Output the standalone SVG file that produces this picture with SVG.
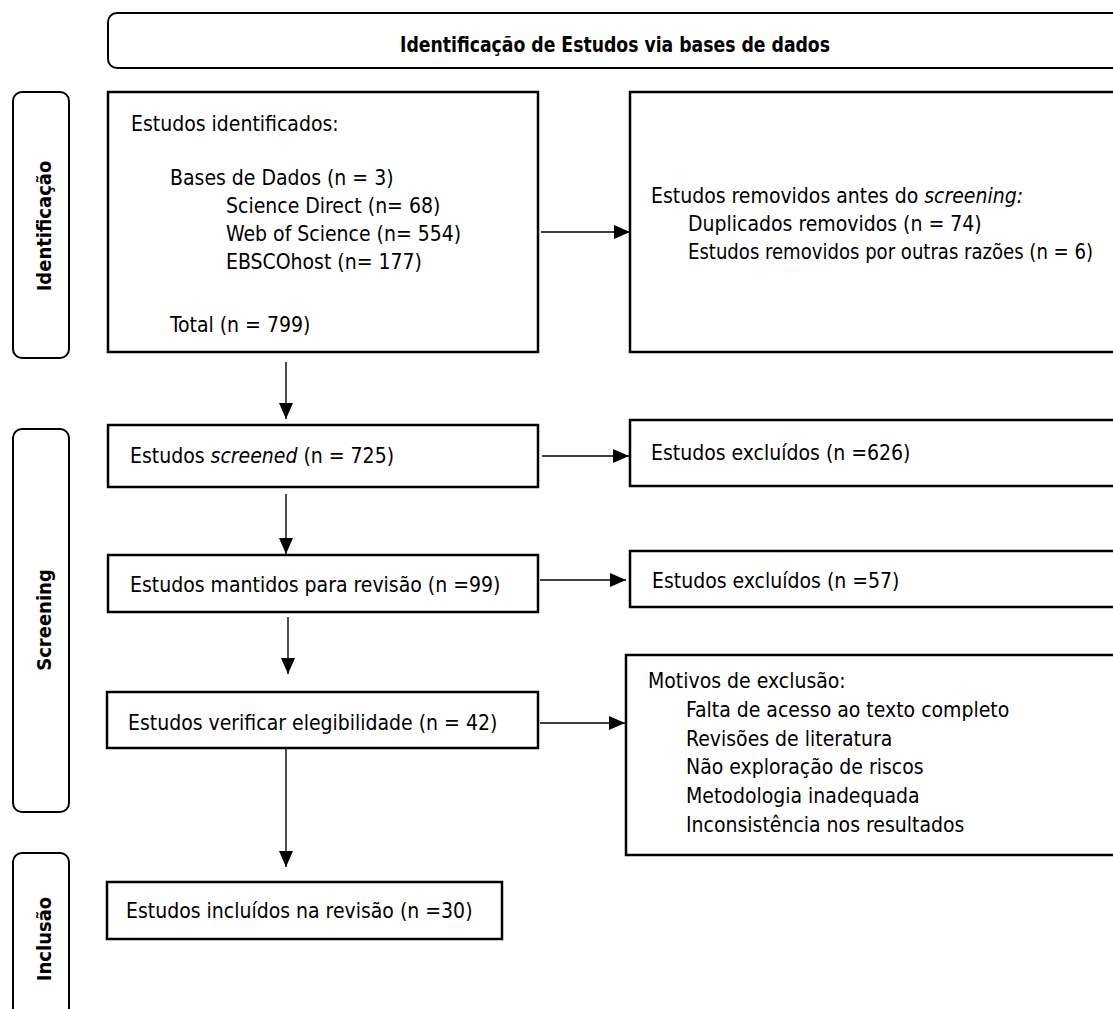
<svg xmlns="http://www.w3.org/2000/svg" width="1113" height="1009" viewBox="0 0 1113 1009">
<defs>
<marker id="ah" viewBox="0 0 16 14" refX="16" refY="7" markerWidth="16" markerHeight="14" markerUnits="userSpaceOnUse" orient="auto">
<path d="M0,0 L16,7 L0,14 z" fill="#000"/>
</marker>
<style>
.box{fill:#fff;stroke:#000;stroke-width:2.5}
.phase{fill:#fff;stroke:#000;stroke-width:2}
.t{font-family:"DejaVu Sans Condensed","Liberation Sans Narrow","Liberation Sans",sans-serif;font-size:21px;fill:#000}
.b{font-weight:bold;font-size:20px}
.h{font-size:22px}
.conn line{stroke:#000;stroke-width:1.4;marker-end:url(#ah)}
</style>
</defs>
<rect width="1113" height="1009" fill="#fff"/>
<g id="header">
<rect class="phase" x="108" y="13" width="1020" height="55" rx="9"/>
<text class="t b h" x="400" y="52" textLength="430" lengthAdjust="spacingAndGlyphs">Identificação de Estudos via bases de dados</text>
</g>
<g id="phase-identificacao">
<rect class="phase" x="13" y="92" width="56" height="266" rx="9"/>
<text class="t b" transform="translate(51,226) rotate(-90)" text-anchor="middle">Identificação</text>
</g>
<g id="phase-screening">
<rect class="phase" x="13" y="429" width="56" height="383" rx="9"/>
<text class="t b" transform="translate(51,620) rotate(-90)" text-anchor="middle">Screening</text>
</g>
<g id="phase-inclusao">
<rect class="phase" x="13" y="853" width="56" height="170" rx="9"/>
<text class="t b" transform="translate(51,939) rotate(-90)" text-anchor="middle">Inclusão</text>
</g>
<g id="identificados">
<rect class="box" x="108" y="92" width="430" height="260"/>
<text class="t" x="131" y="131">Estudos identificados:</text>
<text class="t" x="170" y="185">Bases de Dados (n = 3)</text>
<text class="t" x="226" y="213">Science Direct (n= 68)</text>
<text class="t" x="226" y="241">Web of Science (n= 554)</text>
<text class="t" x="226" y="269">EBSCOhost (n= 177)</text>
<text class="t" x="170" y="332">Total (n = 799)</text>
</g>
<g id="removidos">
<rect class="box" x="630" y="92" width="500" height="260"/>
<text class="t" x="651" y="203">Estudos removidos antes do <tspan font-style="italic">screening:</tspan></text>
<text class="t" x="688" y="231">Duplicados removidos (n = 74)</text>
<text class="t" x="688" y="259" textLength="405" lengthAdjust="spacingAndGlyphs">Estudos removidos por outras razões (n = 6)</text>
</g>
<g id="screened">
<rect class="box" x="108" y="425" width="430" height="62"/>
<text class="t" x="130" y="463">Estudos <tspan font-style="italic">screened</tspan> (n = 725)</text>
</g>
<g id="excluidos1">
<rect class="box" x="630" y="420" width="500" height="66"/>
<text class="t" x="651" y="460">Estudos excluídos (n =626)</text>
</g>
<g id="mantidos">
<rect class="box" x="108" y="555" width="430" height="57"/>
<text class="t" x="130" y="592">Estudos mantidos para revisão (n =99)</text>
</g>
<g id="excluidos2">
<rect class="box" x="630" y="551" width="500" height="56"/>
<text class="t" x="652" y="588">Estudos excluídos (n =57)</text>
</g>
<g id="elegibilidade">
<rect class="box" x="107" y="692" width="431" height="56"/>
<text class="t" x="128" y="730">Estudos verificar elegibilidade (n = 42)</text>
</g>
<g id="motivos">
<rect class="box" x="626" y="655" width="504" height="200"/>
<text class="t" x="648" y="688">Motivos de exclusão:</text>
<text class="t" x="686" y="717">Falta de acesso ao texto completo</text>
<text class="t" x="686" y="746">Revisões de literatura</text>
<text class="t" x="686" y="774">Não exploração de riscos</text>
<text class="t" x="686" y="803">Metodologia inadequada</text>
<text class="t" x="686" y="832">Inconsistência nos resultados</text>
</g>
<g id="incluidos">
<rect class="box" x="107" y="882" width="395" height="57"/>
<text class="t" x="126" y="918">Estudos incluídos na revisão (n =30)</text>
</g>
<g id="connectors" class="conn">
<line x1="541" y1="232" x2="630" y2="232"/>
<line x1="286" y1="362" x2="286" y2="419"/>
<line x1="542" y1="456" x2="629" y2="456"/>
<line x1="286" y1="494" x2="286" y2="554"/>
<line x1="540" y1="580" x2="626" y2="580"/>
<line x1="288" y1="617" x2="288" y2="674"/>
<line x1="540" y1="723" x2="625" y2="723"/>
<line x1="286" y1="748" x2="286" y2="867"/>
</g>
</svg>
